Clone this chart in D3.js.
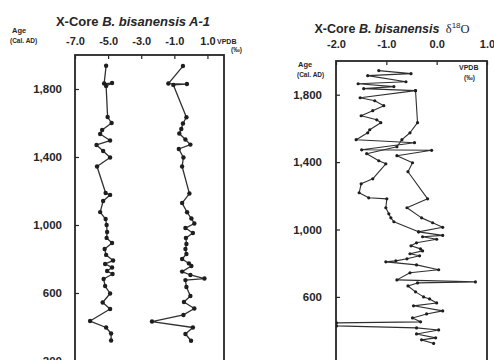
<!DOCTYPE html>
<html><head><meta charset="utf-8">
<script src="https://cdn.jsdelivr.net/npm/d3@7"></script>
<style>body{margin:0;background:#fff}</style>
</head><body>
<svg id="c" width="494" height="360"></svg>
<script>
// ---------- data ----------
const yearTicks = [1800, 1400, 1000, 600, 200];
const leftXTicks = [-7, -5, -3, -1, 1];
const rightXTicks = [-2, -1, 0, 1];

// Left panel, series near -5 per mil
const leftAges1 = [1937,1832,1835,1818,1635,1600,1559,1535,1497,1471,1435,1397,1344,1188,1177,1141,1076,1035,1000,959,924,894,859,824,791,771,750,729,712,682,641,597,544,506,435,397,362,321];
const leftVals1 = [-5.12,-5.24,-4.76,-5.12,-5.03,-4.79,-5.36,-5.48,-4.88,-5.70,-5.30,-4.88,-5.67,-5.15,-4.88,-5.30,-5.48,-5.15,-5.09,-5.06,-5.09,-4.76,-5.21,-5.12,-4.70,-5.18,-4.76,-5.06,-4.73,-5.27,-5.18,-4.88,-5.33,-4.88,-6.09,-5.12,-4.82,-4.82];

// Left panel, series near -0.5 per mil
const leftAges2 = [1935,1832,1829,1824,1634,1597,1565,1538,1503,1473,1447,1397,1344,1185,1129,1075,1038,1009,982,953,924,888,859,829,800,774,759,726,706,685,676,635,582,547,509,471,432,397,359,319];
const leftVals2 = [-0.48,-1.36,-0.24,-1.06,-0.27,-0.48,-0.58,-0.70,-0.33,-0.03,-0.73,-0.45,-0.53,-0.09,-0.53,-0.23,0.03,0.21,-0.33,0.12,-0.30,-0.27,-0.33,-0.27,-0.53,-0.12,0.03,-0.53,-0.03,0.82,-0.33,-0.27,-0.03,-0.42,0.21,-0.45,-2.35,0.12,-0.33,0.01];

// Right panel, delta18O record (two traced paths)
const rightAgesA = [1943,1925,1913,1877,1865,1848,1836,1824,1782,1764,1735,1705,1675,1651,1634,1592,1574,1533,1515,1473,1470,1438,1396,1343,1182,1129,1069,1040,1013,986,965,957,942,921,903,885,873,856,844,826,814,808,790,761,743,701,689,683,665,630,600,588,564,547,517,499,475,452,446,428,416,404,380,357,345,324];
const rightValsA = [-1.15,-0.51,-1.37,-0.61,-1.56,-0.85,-1.45,-0.42,-1.52,-1.23,-1.05,-1.27,-1.50,-1.19,-1.11,-1.33,-1.37,-1.60,-0.44,-1.49,-0.10,-0.79,-0.48,-0.57,-0.18,-0.59,-0.30,-0.08,0.12,-0.36,0.12,-0.28,0.00,-0.40,-0.51,-0.32,-0.28,-0.53,-0.34,-0.59,-0.81,-1.01,-0.40,0.04,-0.53,-0.79,0.77,-0.38,-0.57,-0.42,-0.26,-0.14,0.00,-0.46,0.12,-0.20,-0.48,-0.32,-1.99,-1.99,-0.40,0.04,-0.40,-0.02,-0.30,-0.06];
const rightAgesB = [1824,1634,1574,1533,1491,1450,1408,1390,1301,1271,1218,1188,1182,1129,1093,1069,1046,986];
const rightValsB = [-0.42,-0.38,-0.53,-0.69,-0.79,-1.39,-1.15,-1.01,-1.27,-1.50,-1.54,-1.35,-0.99,-1.01,-0.95,-0.91,-0.85,-0.36];

// ---------- drawing ----------
const svg = d3.select('#c');
const FONT = "'Liberation Sans', Arial, Helvetica, sans-serif";
const INK = '#262626';
const fmtX = d => d.toFixed(1);
const fmtY = d3.format(',');

function drawPanel(cfg) {
  const x = d3.scaleLinear().domain(cfg.xDomain).range(cfg.xRange);
  const y = d3.scaleLinear().domain([2000, 0]).range(cfg.yRange);
  const g = svg.append('g');

  // top axis (ticks inward)
  const ax = g.append('g').attr('transform', `translate(0,${cfg.yRange[0]})`)
    .call(d3.axisTop(x).tickValues(cfg.xTicks).tickSize(-4).tickPadding(cfg.xPad).tickFormat(fmtX));
  ax.select('.domain').remove();
  ax.selectAll('line').attr('stroke', INK).attr('stroke-width', 1.2);
  ax.selectAll('text').attr('font-family', FONT).attr('font-size', 11).attr('font-weight', 'bold').attr('fill', INK);

  // left axis (ticks inward)
  const ay = g.append('g').attr('transform', `translate(${cfg.xRange[0]},0)`)
    .call(d3.axisLeft(y).tickValues(yearTicks).tickSize(-4).tickPadding(cfg.yPad).tickFormat(fmtY));
  ay.select('.domain').remove();
  ay.selectAll('line').attr('stroke', INK).attr('stroke-width', 1.2);
  ay.selectAll('text').attr('font-family', FONT).attr('font-size', 11.5).attr('font-weight', 'bold').attr('fill', INK);

  // frame
  g.append('rect')
    .attr('x', cfg.xRange[0]).attr('y', cfg.yRange[0])
    .attr('width', cfg.xRange[1] - cfg.xRange[0]).attr('height', 420)
    .attr('fill', 'none').attr('stroke', INK).attr('stroke-width', 1.8);

  const clipId = 'clip' + cfg.id;
  svg.append('clipPath').attr('id', clipId).append('rect')
    .attr('x', cfg.xRange[0]).attr('y', cfg.yRange[0])
    .attr('width', cfg.xRange[1] - cfg.xRange[0]).attr('height', 420);

  const line = d3.line().x(d => x(d.v)).y(d => y(d.a));
  cfg.series.forEach(s => {
    const pts = s.ages.map((a, i) => ({a, v: s.vals[i]}));
    const sg = g.append('g').attr('clip-path', `url(#${clipId})`);
    sg.append('path').datum(pts).attr('d', line)
      .attr('fill', 'none').attr('stroke', '#303030').attr('stroke-width', cfg.lw).attr('stroke-linejoin', 'round');
    sg.selectAll('circle').data(pts).join('circle')
      .attr('cx', d => x(d.v)).attr('cy', d => y(d.a)).attr('r', cfg.r).attr('fill', '#1e1e1e');
  });
}

drawPanel({
  id: 'L', xDomain: [-7, 2], xRange: [75, 224], yRange: [55, 395],
  xTicks: leftXTicks, xPad: 10, yPad: 13, lw: 1.3, r: 2.2,
  series: [{ages: leftAges1, vals: leftVals1}, {ages: leftAges2, vals: leftVals2}]
});
drawPanel({
  id: 'R', xDomain: [-2, 1], xRange: [336, 487], yRange: [61, 398],
  xTicks: rightXTicks, xPad: 13, yPad: 14, lw: 1.1, r: 1.6,
  series: [{ages: rightAgesA, vals: rightValsA}, {ages: rightAgesB, vals: rightValsB}]
});

function txt(x, y, s, size, opts = {}) {
  return svg.append('text').attr('x', x).attr('y', y)
    .attr('font-family', FONT).attr('font-size', size)
    .attr('font-weight', opts.weight || 'bold').attr('fill', INK)
    .attr('text-anchor', opts.anchor || 'start').text(s);
}

// titles
const t1 = svg.append('text').attr('x', 133).attr('y', 26).attr('text-anchor', 'middle')
  .attr('font-family', FONT).attr('font-size', 13).attr('font-weight', 'bold').attr('fill', INK);
t1.append('tspan').text('X-Core ');
t1.append('tspan').attr('font-style', 'italic').text('B. bisanensis A-1');

const t2 = svg.append('text').attr('x', 392).attr('y', 33).attr('text-anchor', 'middle')
  .attr('font-family', FONT).attr('font-size', 12.5).attr('font-weight', 'bold').attr('fill', INK);
t2.append('tspan').text('X-Core ');
t2.append('tspan').attr('font-style', 'italic').text('B. bisanensis');
t2.append('tspan').attr('font-weight', 'normal').attr('font-family', "'Liberation Serif', serif").text('\u2002\u03b4');
t2.append('tspan').attr('font-weight', 'normal').attr('font-size', 8).attr('dy', -5).text('18');
t2.append('tspan').attr('font-weight', 'normal').attr('font-family', "'Liberation Serif', serif").attr('dy', 5).text('O');

// axis captions
txt(12, 33, 'Age', 7.5);
txt(10, 43, '(Cal. AD)', 6.5);
txt(217, 44, 'VPDB', 7);
txt(231, 52, '(\u2030)', 6.5);

txt(298, 67, 'Age', 7.5);
txt(297, 77, '(Cal. AD)', 6.5);
txt(459, 70, 'VPDB', 7);
txt(464, 80, '(\u2030)', 6.5);
</script>
</body></html>
